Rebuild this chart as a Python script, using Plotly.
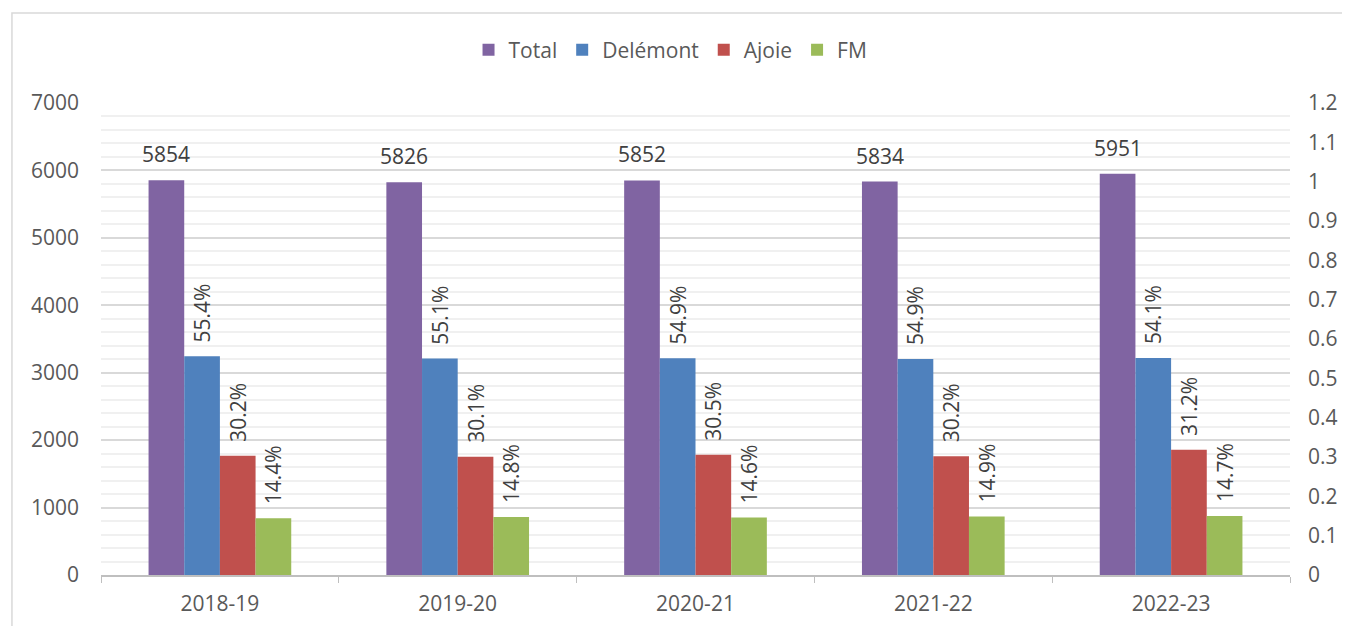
import plotly.graph_objects as go

years = ["2018-19", "2019-20", "2020-21", "2021-22", "2022-23"]
total = [5854, 5826, 5852, 5834, 5951]
delemont = [3243, 3210, 3213, 3203, 3219]
ajoie = [1768, 1754, 1785, 1762, 1857]
fm = [843, 862, 854, 869, 875]
pct_delemont = ["55.4%", "55.1%", "54.9%", "54.9%", "54.1%"]
pct_ajoie = ["30.2%", "30.1%", "30.5%", "30.2%", "31.2%"]
pct_fm = ["14.4%", "14.8%", "14.6%", "14.9%", "14.7%"]

FONT = "Open Sans"
FS = 21
TXT = "#404040"
AX = "#595959"
BARGAP = 0.4
NB = "\u00a0\u00a0"

fig = go.Figure()
series = [
    ("Total", total, None, "#8064a2"),
    ("Delémont", delemont, pct_delemont, "#4f81bd"),
    ("Ajoie", ajoie, pct_ajoie, "#c0504d"),
    ("FM", fm, pct_fm, "#9bbb59"),
]
for name, vals, labels, color in series:
    kw = {}
    if labels is not None:
        kw = dict(text=[NB + t for t in labels], textposition="outside", textangle=-90,
                  constraintext="none", cliponaxis=False,
                  textfont=dict(family=FONT, size=FS, color=TXT))
    fig.add_trace(go.Bar(name=name, x=years, y=vals,
                         marker=dict(color=color, line=dict(width=0)), **kw))

# Total value labels, placed above the first bar of each group
nbars = len(series)
bw = (1 - BARGAP) / nbars
for i, v in enumerate(total):
    fig.add_annotation(x=i - (1 - BARGAP) / 2 + bw / 2, y=v, xref="x", yref="y",
                       text=str(v), showarrow=False, yanchor="bottom", yshift=10,
                       font=dict(family=FONT, size=FS, color=TXT))

# invisible trace to anchor the secondary axis
fig.add_trace(go.Scatter(x=years, y=[0] * len(years), yaxis="y2", mode="markers",
                         marker=dict(opacity=0), showlegend=False, hoverinfo="skip"))

fig.update_layout(
    width=1342, height=618,
    margin=dict(l=93, r=60, t=95, b=51),
    paper_bgcolor="white", plot_bgcolor="white",
    barmode="group", bargap=BARGAP, bargroupgap=0,
    font=dict(family=FONT, size=FS, color=AX),
    legend=dict(orientation="h", x=0.479, xanchor="center", y=1.112, yanchor="middle",
                font=dict(family=FONT, size=FS, color=AX), itemwidth=30,
                traceorder="normal"),
    xaxis=dict(showline=True, linecolor="#bfbfbf", linewidth=1.5, ticks="outside",
               tickson="boundaries", ticklen=6, tickcolor="#bfbfbf",
               tickfont=dict(family=FONT, size=FS, color=AX), showgrid=False,
               ticklabelstandoff=9, automargin=False),
    yaxis=dict(range=[0, 7000], dtick=1000, showgrid=True, gridcolor="#d9d9d9",
               gridwidth=1.5, zeroline=False, showline=False,
               tickfont=dict(family=FONT, size=FS, color=AX), ticklabelstandoff=21,
               automargin=False,
               minor=dict(dtick=200, showgrid=True, gridcolor="#f0f0f0", gridwidth=1.5)),
    yaxis2=dict(range=[0, 1.2], dtick=0.1, overlaying="y", side="right",
                showgrid=False, zeroline=False, showline=False,
                tickfont=dict(family=FONT, size=FS, color=AX), ticklabelstandoff=17,
                automargin=False),
    shapes=[dict(type="rect", xref="paper", yref="paper",
                 x0=-0.0749, x1=1.2, y0=-0.3, y1=1.1907,
                 line=dict(color="#d9d9d9", width=1.5), layer="below")],
)

fig.write_html("out.html")
